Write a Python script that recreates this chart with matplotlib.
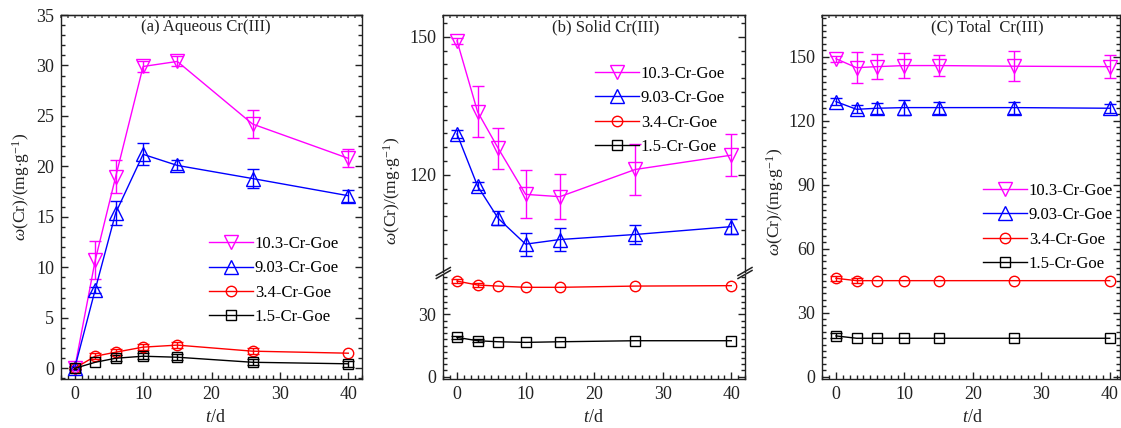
import matplotlib
matplotlib.use('Agg')
import matplotlib.pyplot as plt
from matplotlib.ticker import MultipleLocator
from matplotlib.lines import Line2D
import numpy as np

plt.rcParams['font.family'] = ['Liberation Serif', 'DejaVu Serif']
plt.rcParams['mathtext.fontset'] = 'custom'
plt.rcParams['mathtext.rm'] = 'Liberation Serif'
plt.rcParams['mathtext.it'] = 'Liberation Serif:italic'
plt.rcParams['font.size'] = 12

# ---------------- data ----------------
t = [0, 3, 6, 10, 15, 26, 40]
series_labels = ['10.3-Cr-Goe', '9.03-Cr-Goe', '3.4-Cr-Goe', '1.5-Cr-Goe']
colors = ['#FF00FF', '#0000FF', '#FF0000', '#000000']
markers = ['v', '^', 'o', 's']

# (a) aqueous Cr(III)
aq_103 = [0, 10.7, 19.0, 29.9, 30.4, 24.2, 20.8]
aq_103_err = [0.2, 1.9, 1.6, 0.5, 0.5, 1.35, 0.9]
aq_903 = [0, 7.8, 15.4, 21.2, 20.1, 18.8, 17.1]
aq_903_err = [0.2, 0.3, 1.2, 1.1, 0.5, 0.95, 0.6]
aq_34 = [0, 1.2, 1.6, 2.1, 2.3, 1.7, 1.5]
aq_34_err = [0.1, 0.3, 0.3, 0.3, 0.3, 0.3, 0]
aq_15 = [0, 0.6, 1.0, 1.2, 1.1, 0.6, 0.45]
aq_15_err = [0.1, 0, 0.3, 0.3, 0.3, 0.3, 0.3]

# (b) solid Cr(III)
so_103 = [149.1, 133.7, 125.8, 115.8, 115.3, 121.2, 124.3]
so_103_err = [0.6, 5.5, 4.4, 5.2, 4.9, 5.6, 4.5]
so_903 = [128.9, 117.6, 110.6, 105.0, 106.0, 107.1, 108.8]
so_903_err = [0.8, 0.8, 1.5, 2.5, 2.5, 2.0, 1.7]
so_34 = [46.0, 44.1, 43.6, 43.0, 43.0, 43.6, 43.8]
so_34_err = [1.0, 1.0, 0, 0, 0, 0, 0]
so_15 = [18.9, 17.3, 16.8, 16.5, 16.8, 17.3, 17.3]
so_15_err = [0.8, 0.8, 0, 0, 0, 0, 0]

# (c) total Cr(III)
to_103 = [149.0, 144.8, 145.3, 145.8, 145.8, 145.5, 145.3]
to_103_err = [1.5, 7.3, 6.0, 5.7, 5.0, 7.0, 5.5]
to_903 = [128.9, 125.3, 125.8, 126.1, 126.1, 126.1, 125.8]
to_903_err = [1.5, 1.8, 2.5, 3.5, 2.8, 2.8, 2.0]
to_34 = [46.1, 45.0, 45.0, 45.0, 45.0, 45.0, 45.0]
to_34_err = [1.2, 1.2, 0, 0, 0, 0, 0]
to_15 = [19.1, 18.0, 18.0, 18.0, 18.0, 18.0, 18.0]
to_15_err = [1.2, 0, 0, 0, 0, 0, 0]

titles = ['(a) Aqueous Cr(III)', '(b) Solid Cr(III)', '(C) Total  Cr(III)']
ylabel = r'$\omega$(Cr)/(mg$\cdot$g$^{-1}$)'
xlabel = r'$t$/d'

# ---------------- layout ----------------
W, H = 1121, 428
fig = plt.figure(figsize=(W / 100, H / 100), dpi=100)


def add_ax(l, tp, r, b):
    return fig.add_axes([l / W, 1 - b / H, (r - l) / W, (b - tp) / H])


def fx(x):
    return x / W


def fy(y):
    return 1 - y / H


def style(ax, ymaj, ymin, xlabels=True, bottom=True, top=True):
    ax.xaxis.set_major_locator(MultipleLocator(10))
    ax.xaxis.set_minor_locator(MultipleLocator(1))
    ax.yaxis.set_major_locator(MultipleLocator(ymaj))
    ax.yaxis.set_minor_locator(MultipleLocator(ymin))
    ax.tick_params(which='both', direction='in', right=True, top=False,
                   bottom=bottom, labelbottom=xlabels, width=1, labelsize=13,
                   pad=5, colors='#222222', labelcolor='#222222')
    ax.tick_params(which='major', length=5)
    ax.tick_params(which='minor', length=3)
    for s in ax.spines.values():
        s.set_linewidth(1)
        s.set_color('#222222')
    if top:
        sec = ax.secondary_xaxis('top')
        sec.xaxis.set_major_locator(MultipleLocator(1))
        sec.tick_params(which='both', direction='in', length=2.2, width=1.2,
                        labeltop=False, colors='#555555')
        sec.spines['top'].set_color('#888888')
        sec.spines['top'].set_linewidth(1)


def draw(ax, ys, errs):
    handles = []
    for y, e, c, m, lab in zip(ys, errs, colors, markers, series_labels):
        y = np.asarray(y, float)
        e = np.asarray(e, float)
        tt = np.asarray(t, float)
        mask = e > 0
        if mask.any():
            ax.errorbar(tt[mask], y[mask], yerr=e[mask], fmt='none', ecolor=c,
                        elinewidth=1, capsize=4.5, capthick=1, zorder=2)
        ms = 9.5 if m in ('v', '^') else 7.5
        h, = ax.plot(tt, y, marker=m, color=c, mfc='none', mec=c, ms=ms,
                     mew=1, lw=1, label=lab, zorder=3)
        handles.append(h)
    return handles


def legend(ax, handles, x, y):
    ax.legend(handles=handles, loc='upper left', bbox_to_anchor=(fx(x), fy(y)),
              bbox_transform=fig.transFigure, frameon=False, fontsize=12,
              handlelength=2.65, handletextpad=0.1, labelspacing=0.5,
              borderpad=0, borderaxespad=0, numpoints=1)


# ----- panel (a) -----
axa = add_ax(61, 15, 362, 379)
ha = draw(axa, [aq_103, aq_903, aq_34, aq_15],
          [aq_103_err, aq_903_err, aq_34_err, aq_15_err])
axa.set_xlim(-2, 42)
axa.set_ylim(-1.056, 35)
style(axa, 5, 1)
legend(axa, ha, 209, 236)

# ----- panel (b) broken axis -----
axbt = add_ax(443.3, 15, 745, 271.5)
axbb = add_ax(443.3, 274.5, 745, 379)
for ax in (axbt, axbb):
    hb = draw(ax, [so_103, so_903, so_34, so_15],
              [so_103_err, so_903_err, so_34_err, so_15_err])
    ax.set_xlim(-2, 42)
axbt.set_ylim(99.07, 154.7)
axbb.set_ylim(-1.12, 49.17)
style(axbt, 30, 3, xlabels=False, bottom=False, top=True)
style(axbb, 30, 3, top=False)
axbt.spines['bottom'].set_visible(False)
axbb.spines['top'].set_visible(False)
legend(axbt, hb, 595, 66)
for x0 in (443.3, 745):
    for yb in (271.5, 274.5):
        fig.add_artist(Line2D([fx(x0 - 7), fx(x0 + 7)], [fy(yb + 4), fy(yb - 4)],
                              transform=fig.transFigure, color='#222222', lw=1.1))

# ----- panel (c) -----
axc = add_ax(822.3, 15, 1120, 379)
hc = draw(axc, [to_103, to_903, to_34, to_15],
          [to_103_err, to_903_err, to_34_err, to_15_err])
axc.set_xlim(-2, 41.5)
axc.set_ylim(-1.09, 169.5)
style(axc, 30, 3)
legend(axc, hc, 983, 183)

# ----- texts -----
for x, s in zip((205.7, 605.8, 987), titles):
    fig.text(fx(x), fy(27), s, ha='center', va='center', fontsize=12, color='#222222')
for x, y in ((21, 187), (392, 191), (775, 202)):
    fig.text(fx(x), fy(y), ylabel, rotation=90, ha='center', va='center',
             fontsize=12.5, color='#222222')
for x in (215, 593, 972):
    fig.text(fx(x), fy(418), xlabel, ha='center', va='center', fontsize=13,
             color='#222222')

fig.savefig('out.png', dpi=100)
